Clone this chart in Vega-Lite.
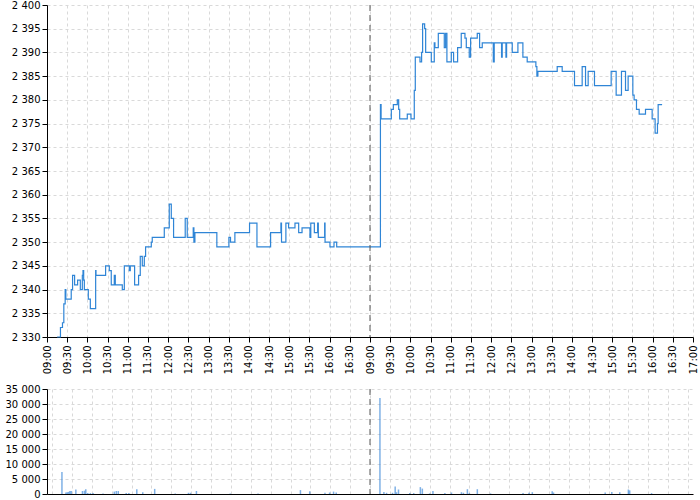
{
  "$schema": "https://vega.github.io/schema/vega-lite/v6.json",
  "padding": {"left": 5, "top": 0, "right": 6, "bottom": 5},
  "spacing": 10,
  "config": {
    "view": {"stroke": null},
    "font": "DejaVu Sans",
    "axis": {
      "labelFont": "DejaVu Sans",
      "labelFontSize": 10,
      "labelColor": "#000000",
      "domainColor": "#000000",
      "tickColor": "#000000",
      "tickSize": 5,
      "gridColor": "#d9d9d9",
      "gridDash": [3, 3],
      "title": null
    }
  },
  "datasets": {
    "price": [
      {"t": 15, "p": 2330}, {"t": 20, "p": 2332}, {"t": 23, "p": 2333}, {"t": 25, "p": 2337},
      {"t": 27, "p": 2340}, {"t": 28, "p": 2338}, {"t": 36, "p": 2340}, {"t": 38, "p": 2343},
      {"t": 41, "p": 2341}, {"t": 45.5, "p": 2342}, {"t": 49.5, "p": 2340}, {"t": 52.5, "p": 2343},
      {"t": 53.5, "p": 2344}, {"t": 54.5, "p": 2342}, {"t": 55.5, "p": 2340}, {"t": 61.4, "p": 2338},
      {"t": 64.4, "p": 2336}, {"t": 72.3, "p": 2344}, {"t": 72.8, "p": 2343}, {"t": 87.1, "p": 2345},
      {"t": 92.6, "p": 2344}, {"t": 95.5, "p": 2341}, {"t": 100, "p": 2343}, {"t": 101.5, "p": 2341},
      {"t": 111.9, "p": 2340}, {"t": 114.9, "p": 2345}, {"t": 122.3, "p": 2344}, {"t": 123.8, "p": 2345},
      {"t": 130.2, "p": 2341}, {"t": 136.1, "p": 2343}, {"t": 138.6, "p": 2347}, {"t": 141.6, "p": 2345},
      {"t": 144.6, "p": 2347}, {"t": 146.5, "p": 2349}, {"t": 155, "p": 2350}, {"t": 156.4, "p": 2351},
      {"t": 174.3, "p": 2353}, {"t": 181.7, "p": 2358}, {"t": 184.7, "p": 2355}, {"t": 188.1, "p": 2351},
      {"t": 205.4, "p": 2355}, {"t": 208.4, "p": 2351}, {"t": 217.3, "p": 2353}, {"t": 218.3, "p": 2350},
      {"t": 219.8, "p": 2352}, {"t": 252.4, "p": 2349}, {"t": 270.3, "p": 2351}, {"t": 272.7, "p": 2350},
      {"t": 279.2, "p": 2352}, {"t": 301, "p": 2354}, {"t": 312, "p": 2349}, {"t": 332.3, "p": 2352},
      {"t": 347.6, "p": 2354}, {"t": 348.5, "p": 2350}, {"t": 355, "p": 2354}, {"t": 359, "p": 2353},
      {"t": 368.5, "p": 2354}, {"t": 374, "p": 2352}, {"t": 379, "p": 2353}, {"t": 390.8, "p": 2351},
      {"t": 392, "p": 2354}, {"t": 397.3, "p": 2352}, {"t": 402.2, "p": 2354}, {"t": 403.2, "p": 2351},
      {"t": 412.6, "p": 2354}, {"t": 413.2, "p": 2350}, {"t": 420.5, "p": 2349}, {"t": 426.5, "p": 2350},
      {"t": 430.5, "p": 2349},
      {"t": 495.5, "p": 2379}, {"t": 496.5, "p": 2376}, {"t": 511.7, "p": 2378}, {"t": 514.7, "p": 2379},
      {"t": 520.6, "p": 2380}, {"t": 522.6, "p": 2378}, {"t": 524.1, "p": 2376}, {"t": 535.4, "p": 2377},
      {"t": 540.9, "p": 2376}, {"t": 545.8, "p": 2382}, {"t": 547.3, "p": 2389}, {"t": 554.3, "p": 2388},
      {"t": 556.7, "p": 2390}, {"t": 558.2, "p": 2396}, {"t": 561.2, "p": 2395}, {"t": 562.7, "p": 2390},
      {"t": 571.1, "p": 2388}, {"t": 575.5, "p": 2392}, {"t": 576.5, "p": 2391}, {"t": 581.5, "p": 2394},
      {"t": 590.4, "p": 2391}, {"t": 592.4, "p": 2394}, {"t": 594.3, "p": 2388}, {"t": 600.8, "p": 2390},
      {"t": 604.2, "p": 2388}, {"t": 610.2, "p": 2391}, {"t": 615.6, "p": 2394}, {"t": 621.1, "p": 2393},
      {"t": 623.1, "p": 2391}, {"t": 627.5, "p": 2389}, {"t": 629.5, "p": 2393}, {"t": 639.4, "p": 2394},
      {"t": 642.9, "p": 2391}, {"t": 646.8, "p": 2392}, {"t": 663.2, "p": 2388}, {"t": 664.6, "p": 2392},
      {"t": 675.5, "p": 2389}, {"t": 676.5, "p": 2392}, {"t": 682, "p": 2389}, {"t": 683, "p": 2392},
      {"t": 691.4, "p": 2390}, {"t": 699.8, "p": 2392}, {"t": 707.2, "p": 2389}, {"t": 713.6, "p": 2388},
      {"t": 726.5, "p": 2387}, {"t": 728, "p": 2385}, {"t": 729.5, "p": 2386}, {"t": 758.2, "p": 2387},
      {"t": 765.6, "p": 2386}, {"t": 783.9, "p": 2383}, {"t": 795.3, "p": 2387}, {"t": 800.3, "p": 2383},
      {"t": 804.2, "p": 2386}, {"t": 813.6, "p": 2383}, {"t": 838.4, "p": 2386}, {"t": 845.8, "p": 2381},
      {"t": 853.7, "p": 2386}, {"t": 859.7, "p": 2382}, {"t": 863.6, "p": 2385}, {"t": 870.6, "p": 2381},
      {"t": 872.5, "p": 2380}, {"t": 876, "p": 2378}, {"t": 880, "p": 2377}, {"t": 889.4, "p": 2378},
      {"t": 899.3, "p": 2376}, {"t": 903.7, "p": 2373}, {"t": 907.2, "p": 2375}, {"t": 908.2, "p": 2379},
      {"t": 914.1, "p": 2379}
    ],
    "volume": [
      {"t": 15, "v": 7300}, {"t": 21, "v": 500}, {"t": 23, "v": 600}, {"t": 25, "v": 700},
      {"t": 27, "v": 1000}, {"t": 29, "v": 1000}, {"t": 36, "v": 1500}, {"t": 46, "v": 1000},
      {"t": 49, "v": 1100}, {"t": 51, "v": 1600}, {"t": 54, "v": 300}, {"t": 58, "v": 300},
      {"t": 62, "v": 300}, {"t": 77, "v": 200}, {"t": 94, "v": 800}, {"t": 97, "v": 1000},
      {"t": 100, "v": 1000}, {"t": 112, "v": 300}, {"t": 116, "v": 300}, {"t": 128, "v": 1600},
      {"t": 137, "v": 600}, {"t": 155, "v": 1700}, {"t": 186, "v": 200}, {"t": 206, "v": 400},
      {"t": 209, "v": 400}, {"t": 218, "v": 1000}, {"t": 269, "v": 200}, {"t": 311, "v": 200},
      {"t": 375, "v": 1300}, {"t": 389, "v": 900}, {"t": 412, "v": 400}, {"t": 419, "v": 500},
      {"t": 425, "v": 800}, {"t": 429, "v": 500},
      {"t": 495, "v": 32000}, {"t": 501, "v": 700}, {"t": 505, "v": 400}, {"t": 514, "v": 400},
      {"t": 518, "v": 2500}, {"t": 520, "v": 600}, {"t": 523, "v": 1500}, {"t": 540, "v": 300},
      {"t": 546, "v": 300}, {"t": 556, "v": 2300}, {"t": 559, "v": 1800}, {"t": 570, "v": 200},
      {"t": 575, "v": 1000}, {"t": 593, "v": 300}, {"t": 603, "v": 500}, {"t": 618, "v": 600},
      {"t": 621, "v": 400}, {"t": 627, "v": 1600}, {"t": 630, "v": 300}, {"t": 642, "v": 1600},
      {"t": 662, "v": 200}, {"t": 711, "v": 300}, {"t": 720, "v": 400}, {"t": 725, "v": 600},
      {"t": 755, "v": 900}, {"t": 757, "v": 500}, {"t": 835, "v": 500}, {"t": 845, "v": 700},
      {"t": 857, "v": 600}, {"t": 870, "v": 1500}, {"t": 872, "v": 1200}, {"t": 905, "v": 300}
    ],
    "divider": [{"t": 480}]
  },
  "vconcat": [
    {
      "width": 646,
      "height": 332,
      "layer": [
        {
          "data": {"name": "price"},
          "mark": {"type": "line", "interpolate": "step-after", "color": "#2f85d6", "strokeWidth": 1.2},
          "encoding": {
            "x": {
              "field": "t", "type": "quantitative",
              "scale": {"domain": [0, 960], "nice": false, "zero": false},
              "axis": {
                "values": [0,30,60,90,120,150,180,210,240,270,300,330,360,390,420,450,480,510,540,570,600,630,660,690,720,750,780,810,840,870,900,930,960],
                "tickCount": 100,
                "labelAngle": 270,
                "labelAlign": "right",
                "labelBaseline": "middle",
                "labelPadding": 3,
                "labelOverlap": false,
                "labelBound": false,
                "labelFlush": false,
                "labelExpr": "['09:00','09:30','10:00','10:30','11:00','11:30','12:00','12:30','13:00','13:30','14:00','14:30','15:00','15:30','16:00','16:30','09:00','09:30','10:00','10:30','11:00','11:30','12:00','12:30','13:00','13:30','14:00','14:30','15:00','15:30','16:00','16:30','17:00'][round(datum.value / 30)]"
              }
            },
            "y": {
              "field": "p", "type": "quantitative",
              "scale": {"domain": [2330, 2400], "nice": false, "zero": false},
              "axis": {
                "values": [2330,2335,2340,2345,2350,2355,2360,2365,2370,2375,2380,2385,2390,2395,2400],
                "tickCount": 100,
                "labelExpr": "replace(format(datum.value, ','), ',', ' ')",
                "labelFlush": false
              }
            }
          }
        },
        {
          "data": {"name": "divider"},
          "mark": {"type": "rule", "color": "#555555", "strokeDash": [6, 4], "strokeWidth": 1},
          "encoding": {"x": {"field": "t", "type": "quantitative"}}
        }
      ]
    },
    {
      "width": 646,
      "height": 105,
      "layer": [
        {
          "data": {"name": "volume"},
          "mark": {"type": "bar", "color": "#3a87d8", "opacity": 0.65, "size": 1.5},
          "encoding": {
            "x": {
              "field": "t", "type": "quantitative",
              "scale": {"domain": [0, 960], "nice": false, "zero": false},
              "axis": {
                "values": [0,30,60,90,120,150,180,210,240,270,300,330,360,390,420,450,480,510,540,570,600,630,660,690,720,750,780,810,840,870,900,930,960],
                "tickCount": 100,
                "labels": false,
                "ticks": false
              }
            },
            "y": {
              "field": "v", "type": "quantitative",
              "scale": {"domain": [0, 35000], "nice": false},
              "axis": {
                "values": [0,5000,10000,15000,20000,25000,30000,35000],
                "tickCount": 100,
                "labelExpr": "replace(format(datum.value, ','), ',', ' ')",
                "labelFlush": false
              }
            }
          }
        },
        {
          "data": {"name": "divider"},
          "mark": {"type": "rule", "color": "#555555", "strokeDash": [6, 4], "strokeWidth": 1},
          "encoding": {"x": {"field": "t", "type": "quantitative"}}
        }
      ]
    }
  ]
}
